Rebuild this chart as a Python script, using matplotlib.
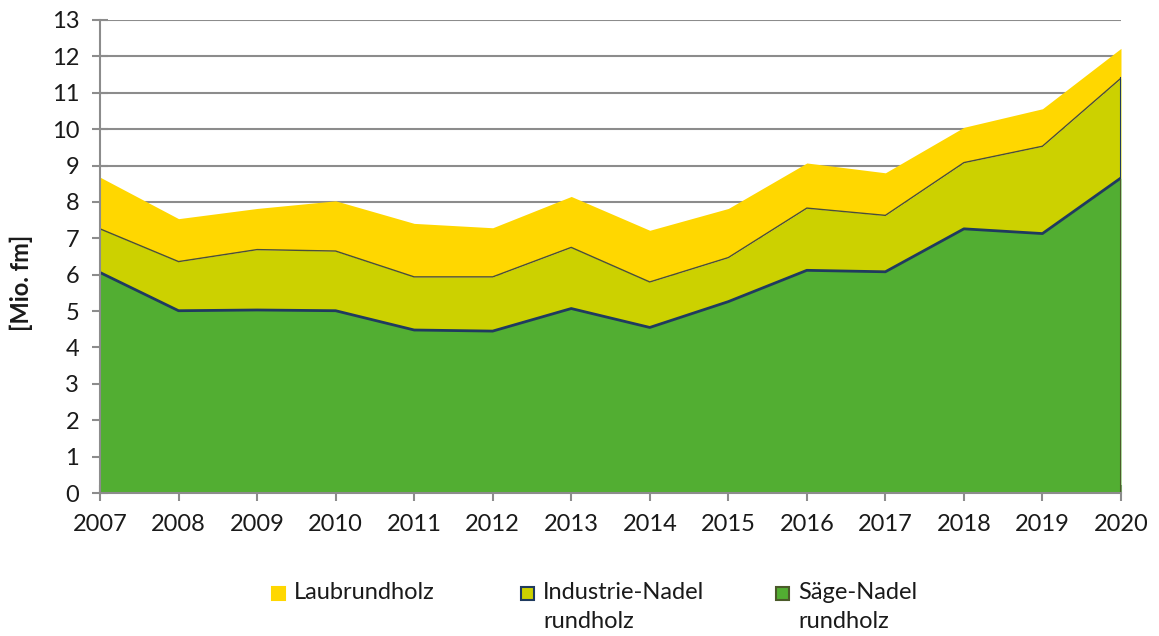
import numpy as np
import matplotlib
matplotlib.use("Agg")
import matplotlib.pyplot as plt
from matplotlib.patches import Rectangle

# Data (Mio. fm)
years = [2007, 2008, 2009, 2010, 2011, 2012, 2013, 2014, 2015, 2016, 2017, 2018, 2019, 2020]
saege_nadel = [6.06, 5.01, 5.03, 5.01, 4.48, 4.45, 5.07, 4.55, 5.26, 6.12, 6.08, 7.26, 7.13, 8.66]
industrie_nadel = [1.20, 1.35, 1.66, 1.64, 1.46, 1.49, 1.68, 1.25, 1.21, 1.71, 1.55, 1.82, 2.40, 2.74]
laub = [1.42, 1.18, 1.13, 1.38, 1.47, 1.35, 1.40, 1.42, 1.35, 1.24, 1.17, 0.97, 1.03, 0.82]
series_labels = ["Laubrundholz", "Industrie-Nadel\nrundholz", "Säge-Nadel\nrundholz"]

plt.rcParams['font.family'] = ['Lato', 'DejaVu Sans']

c_laub = "#FFD700"
c_ind = "#CCD100"
c_saege = "#52AE32"
c_navy = "#1F3A5F"
c_olive = "#4B5A2A"
c_grid = "#8C8C8C"
c_text = "#1a1a1a"
fs = 17

fig = plt.figure(figsize=(11.59, 6.36), dpi=100)
ax = fig.add_axes([0.0863, 0.2248, 0.8809, 0.7438])

x = np.array(years)
s = np.array(saege_nadel)
i_top = s + np.array(industrie_nadel)
l_top = i_top + np.array(laub)

ax.fill_between(x, 0, s, color=c_saege, lw=0, zorder=2)
ax.fill_between(x, s, i_top, color=c_ind, lw=0, zorder=2)
ax.fill_between(x, i_top, l_top, color=c_laub, lw=0, zorder=2)
ax.plot(x, s, color=c_navy, lw=2.0, zorder=3)
ax.plot(x, i_top, color="#4A4F3A", lw=1.0, zorder=3)
ax.plot([x[-1], x[-1]], [0, s[-1]], color=c_olive, lw=1.5, zorder=3)
ax.plot([x[-1], x[-1]], [s[-1], i_top[-1]], color=c_navy, lw=1.5, zorder=3)

ax.set_xlim(years[0], years[-1])
ax.set_ylim(0, 13)
ax.set_xticks(years)
ax.set_yticks(range(0, 14))
ax.yaxis.grid(True, color=c_grid, lw=1.5, zorder=1)
ax.set_axisbelow(True)

for side in ["top", "right"]:
    ax.spines[side].set_visible(False)
for side in ["left", "bottom"]:
    ax.spines[side].set_color(c_grid)
    ax.spines[side].set_linewidth(1.5)
    ax.spines[side].set_zorder(4)

ax.tick_params(axis="both", direction="inout", length=12, width=1.5, color=c_grid,
               labelsize=fs, labelcolor=c_text)
ax.tick_params(axis="y", pad=9)
ax.tick_params(axis="x", pad=9)

ax.set_ylabel("[Mio. fm]", fontsize=fs, fontweight="bold", color=c_text)
ax.yaxis.set_label_coords(-0.066, 0.445)

# legend below, handle aligned with first text line
leg_x = [272, 521, 776]
leg_colors = [c_laub, c_ind, c_saege]
leg_edges = [c_laub, c_navy, c_olive]
W, H = 1159, 636
for lx, lab, fc, ec in zip(leg_x, series_labels, leg_colors, leg_edges):
    fig.add_artist(Rectangle((lx / W, 1 - 600 / H), 13 / W, 13 / H, transform=fig.transFigure,
                             facecolor=fc, edgecolor=ec, lw=1.5))
    fig.text((lx + 22) / W, 1 - 582 / H, lab, fontsize=fs, color=c_text,
             va="top", ha="left", linespacing=1.5)

fig.savefig("out.png", dpi=100)
